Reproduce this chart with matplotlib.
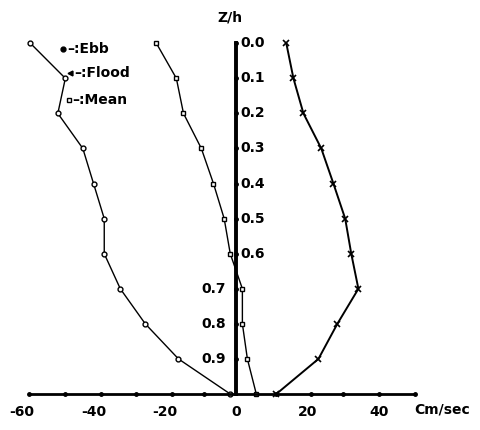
"""Vertical profile of tidal current speed: ebb, flood and mean against Z/h."""
import matplotlib
matplotlib.use("Agg")
import matplotlib.pyplot as plt

# depth fraction Z/h (0 = surface, 1 = bottom)
Z = [0.0, 0.1, 0.2, 0.3, 0.4, 0.5, 0.6, 0.7, 0.8, 0.9, 1.0]

# speeds in cm/sec
EBB = [-57.7, -47.9, -50.0, -43.0, -40.0, -37.0, -37.0, -32.5, -25.5, -16.2, -1.7]
FLOOD = [14.0, 16.0, 18.8, 23.8, 27.2, 30.5, 32.2, 34.2, 28.3, 23.0, 11.2]
MEAN = [-22.4, -16.8, -14.8, -9.8, -6.4, -3.4, -1.7, 1.7, 1.7, 3.1, 5.6]

X_TICKS = [-60, -40, -20, 0, 20, 40]
X_DOTS = [-58, -48, -38, -28, -18, -9, 11, 21, 30, 40, 50]
Z_RIGHT = [0.0, 0.1, 0.2, 0.3, 0.4, 0.5, 0.6]
Z_LEFT = [0.7, 0.8, 0.9]
Z_DOTS = [0.0, 0.1, 0.2, 0.3, 0.4, 0.5, 0.6, 0.7, 0.8, 0.9]

FONT = dict(family="DejaVu Sans", fontweight="bold", fontsize=10)

fig = plt.figure(figsize=(4.81, 4.30), dpi=100)
ax = fig.add_axes([0.0312, 0.0837, 0.846, 0.881])
ax.set_xlim(-62, 52)
ax.set_ylim(1.0, -0.08)

for s in ("top", "right"):
    ax.spines[s].set_visible(False)
ax.spines["left"].set_position(("data", 0))
ax.spines["left"].set_bounds(0, 1)
ax.spines["left"].set_linewidth(2.8)
ax.spines["bottom"].set_position(("data", 1.0))
ax.spines["bottom"].set_bounds(-58, 50)
ax.spines["bottom"].set_linewidth(2.0)

ax.set_xticks(X_TICKS)
ax.set_xticklabels([str(t) for t in X_TICKS], **FONT)
ax.tick_params(axis="x", length=0, pad=8)
ax.set_yticks([])

# dots along the axes
ax.plot(X_DOTS, [1.0] * len(X_DOTS), "o", color="k", ms=2.5, clip_on=False)
ax.plot([0] * len(Z_DOTS), Z_DOTS, "o", color="k", ms=2.5, clip_on=False)

for z in Z_RIGHT:
    ax.text(1.2, z, f"{z:.1f}", ha="left", va="center", **FONT)
for z in Z_LEFT:
    ax.text(-2.8, z, f"{z:.1f}", ha="right", va="center", **FONT)
ax.text(-1.7, -0.072, "Z/h", ha="center", va="center", **FONT)
ax.text(57.7, 1.045, "Cm/sec", ha="center", va="center", clip_on=False, **FONT)

# profiles
ax.plot(EBB, Z, "-o", color="k", lw=1.0, ms=3.5, mfc="white", mew=1.0, clip_on=False)
ax.plot(FLOOD, Z, "-x", color="k", lw=1.4, ms=5, mew=1.2, clip_on=False)
ax.plot(MEAN, Z, "-s", color="k", lw=1.0, ms=3.5, mfc="white", mew=1.0, clip_on=False)

# hand-drawn style key
ax.plot(-48.6, 0.017, "o", color="k", ms=3.5)
ax.text(-47.4, 0.017, "–:Ebb", ha="left", va="center", **FONT)
ax.plot(-46.5, 0.085, "<", color="k", ms=3.5)
ax.text(-45.4, 0.085, "–:Flood", ha="left", va="center", **FONT)
ax.plot(-47.0, 0.162, "s", color="k", ms=3.5, mfc="white", mew=1.0)
ax.text(-46.0, 0.162, "–:Mean", ha="left", va="center", **FONT)

fig.savefig("out.png", dpi=100)
